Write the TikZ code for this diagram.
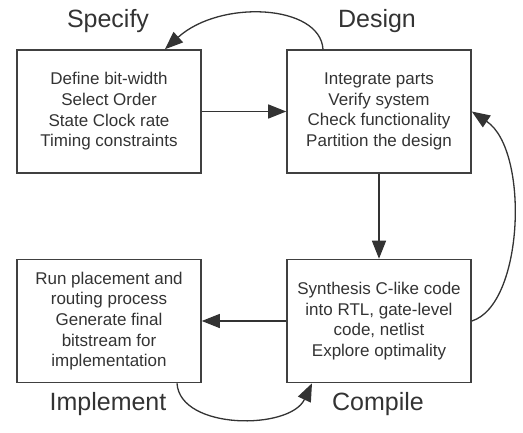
\documentclass[tikz,border=0pt]{standalone}
\usepackage{fontspec}
\setmainfont{Liberation Sans}
\usetikzlibrary{arrows.meta,calc}
\definecolor{ink}{HTML}{333333}
\definecolor{edge}{HTML}{404040}
\tikzset{
  stagebox/.style={draw=edge, line width=1.6pt, minimum width=184pt, minimum height=123pt,
    inner sep=0pt, align=center, text=ink, font=\fontsize{17}{20.7}\selectfont},
  stagelabel/.style={anchor=base, text=ink, font=\fontsize{25}{29}\selectfont, inner sep=0pt},
  flow/.style={draw=ink, line width=1.3pt, -{Triangle[length=18pt,width=14pt]}}
}
\begin{document}
\begin{tikzpicture}[x=1pt,y=-1pt]
\useasboundingbox (0,0) rectangle (523,432);
\node[stagebox] (spec) at (109,111.5) {Define bit-width\\Select Order\\State Clock rate\\Timing constraints};
\node[stagebox] (design) at (379,111.5) {Integrate parts\\Verify system\\Check functionality\\Partition the design};
\node[stagebox] (impl) at (109,321) {Run placement and\\routing process\\Generate final\\bitstream for\\implementation};
\node[stagebox] (comp) at (379,321) {Synthesis C-like code\\into RTL, gate-level\\code, netlist\\Explore optimality};
\node[stagelabel] (lspec) at (108,27) {Specify};
\node[stagelabel] (ldesign) at (377,27) {Design};
\node[stagelabel] (limpl) at (108,410) {Implement};
\node[stagelabel] (lcomp) at (378,410) {Compile};
\coordinate (d1) at ($(design.north)+(-56,0)$);
\coordinate (s1) at ($(spec.north)+(56,0)$);
\coordinate (i1) at ($(impl.south)+(68,0)$);
\coordinate (c1) at ($(comp.south)+(-67,0)$);
\draw[flow] (d1) .. controls +(-3,-45) and +(55,-50) .. (s1);
\draw[flow] (spec.east) -- (design.west);
\draw[flow] (design.south) -- (comp.north);
\draw[flow] (comp.east) .. controls +(52,-16) and +(58,38.5) .. (design.east);
\draw[flow] (comp.west) -- (impl.east);
\draw[flow] (i1) .. controls +(3,47) and +(-22,47) .. (c1);
\end{tikzpicture}
\end{document}
